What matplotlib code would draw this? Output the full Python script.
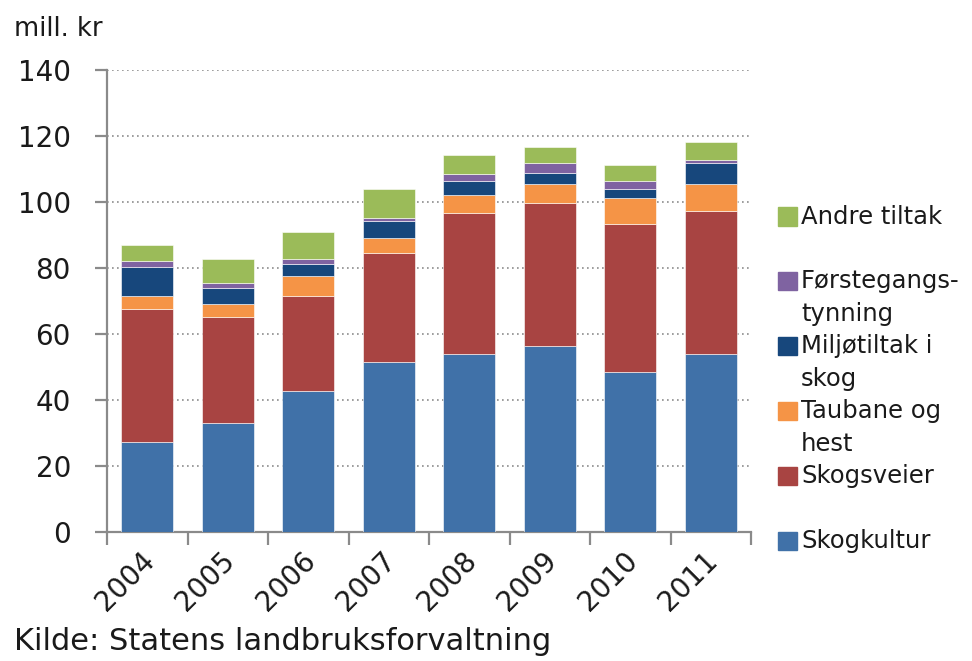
import matplotlib
matplotlib.use("Agg")
import matplotlib.pyplot as plt
from matplotlib.patches import Rectangle
import matplotlib.transforms as mtrans
import numpy as np

years = ["2004", "2005", "2006", "2007", "2008", "2009", "2010", "2011"]
skogkultur = [27.3, 32.9, 42.7, 51.5, 53.8, 56.2, 48.3, 53.8]
skogsveier = [40.2, 32.3, 28.8, 33.0, 42.7, 43.4, 44.9, 43.5]
taubane = [4.0, 3.8, 5.9, 4.7, 5.6, 5.7, 8.1, 8.0]
miljo = [8.8, 5.0, 3.9, 5.0, 4.1, 3.4, 2.5, 6.4]
forste = [1.8, 1.5, 1.5, 0.8, 2.4, 3.0, 2.4, 0.9]
andre = [4.8, 7.3, 8.1, 8.8, 5.6, 5.0, 4.9, 5.7]

series = [
    ("Skogkultur", skogkultur, "#4071A8"),
    ("Skogsveier", skogsveier, "#A84442"),
    ("Taubane og\nhest", taubane, "#F59446"),
    ("Miljøtiltak i\nskog", miljo, "#17477C"),
    ("Førstegangs-\ntynning", forste, "#7F63A1"),
    ("Andre tiltak", andre, "#9BBB59"),
]

W, H = 972, 661
fig = plt.figure(figsize=(W / 100, H / 100), dpi=100)
ax = fig.add_axes([107 / W, (H - 531.7) / H, (751 - 107) / W, (531.7 - 70) / H])

FONT = "DejaVu Sans"
tc = "#1a1a1a"

x = np.arange(len(years))
bottom = np.zeros(len(years))
for name, vals, col in series:
    v = np.array(vals)
    ax.bar(x, v, 0.645, bottom=bottom, color=col, edgecolor="white", linewidth=0.4, zorder=3)
    bottom += v

ax.set_xlim(-0.5, len(years) - 0.5)
ax.set_ylim(0, 140)
ax.set_yticks(np.arange(0, 141, 20))
ax.yaxis.grid(True, linestyle=(0, (1, 2)), color="#8c8c8c", linewidth=1.2, zorder=0)
ax.set_axisbelow(True)
for s in ["top", "right"]:
    ax.spines[s].set_visible(False)
for s in ["left", "bottom"]:
    ax.spines[s].set_color("#8a8a8a")
    ax.spines[s].set_linewidth(1.6)

ax.set_xticks(np.arange(-0.5, len(years), 1.0))
ax.set_xticklabels([])
ax.tick_params(axis="x", length=9, width=1.6, color="#8a8a8a")
ax.tick_params(axis="y", length=9, width=1.6, color="#8a8a8a", pad=17,
               labelsize=20, labelcolor=tc)
for lab in ax.get_yticklabels():
    lab.set_family(FONT)

off = mtrans.ScaledTranslation(-7 / 100, -15 / 100, fig.dpi_scale_trans)
for i, y in enumerate(years):
    ax.text(i, 0, y, transform=ax.get_xaxis_transform() + off, rotation=45,
            rotation_mode="anchor", ha="right", va="top", fontsize=20,
            family=FONT, color=tc)

fig.text(14 / W, 1 - 29 / H, "mill. kr", fontsize=18.5, family=FONT, color=tc,
         ha="left", va="center")
fig.text(14 / W, 1 - 641 / H, "Kilde: Statens landbruksforvaltning", fontsize=22,
         family=FONT, color=tc, ha="left", va="center")

# legend (top to bottom)
for k, (name, vals, col) in enumerate(reversed(series)):
    yc = 216.5 + 64.9 * k
    fig.add_artist(Rectangle((778 / W, 1 - (yc + 9) / H), 19 / W, 18 / H,
                             transform=fig.transFigure, color=col))
    for j, line in enumerate(name.split("\n")):
        fig.text(801 / W, 1 - (yc + 33 * j) / H, line, fontsize=17.5, family=FONT,
                 color=tc, ha="left", va="center")

fig.savefig("out.png", dpi=100)
